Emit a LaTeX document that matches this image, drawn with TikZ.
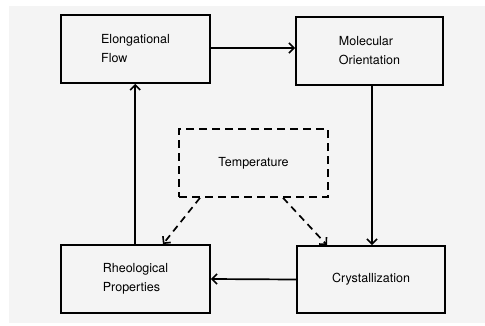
\documentclass[tikz,border=0pt]{standalone}
\usepackage{fontspec}
\setmainfont{TeX Gyre Heros}
\usetikzlibrary{arrows.meta}
\begin{document}
\begin{tikzpicture}[x=1pt,y=-1pt,
  box/.style={draw=black,line width=1.8pt,minimum width=149pt,minimum height=68pt,align=left,font=\fontsize{12.5}{19}\selectfont,inner sep=0pt},
  dbox/.style={box,dash pattern=on 8pt off 5pt,line width=1.6pt},
  conn/.style={line width=1.7pt,-{Straight Barb[length=5pt,width=10pt,line width=1.6pt]}},
  dconn/.style={conn,dash pattern=on 7pt off 5pt}]
\useasboundingbox (0,0) rectangle (485,325);
\fill[white] (0,0) rectangle (485,325);
\fill[gray!9] (9,6) rectangle (485,323);
\node[box] (ef) at (135.5,49) {Elongational\\Flow};
\node[box,minimum width=147pt] (mo) at (369.5,51) {Molecular\\Orientation};
\node[dbox] (t) at (253.5,163) {Temperature};
\node[box] (rp) at (135.5,279) {Rheological\\Properties};
\node[box,minimum width=148pt,minimum height=67pt] (cr) at (371,279.5) {Crystallization};
\draw[conn] (ef.east |- 0,48) -- (mo.west |- 0,48);
\draw[conn] (mo.south -| 372,0) -- (cr.north -| 372,0);
\draw[conn] (cr.west) -- (rp.east);
\draw[conn] (rp.north -| 135.2,0) -- (ef.south -| 135.2,0);
\draw[dconn] (t.south -| 200,0) -- (rp.north -| 163,0);
\draw[dconn] (t.south -| 283,0) -- (cr.north -| 327,0);
\end{tikzpicture}
\end{document}
